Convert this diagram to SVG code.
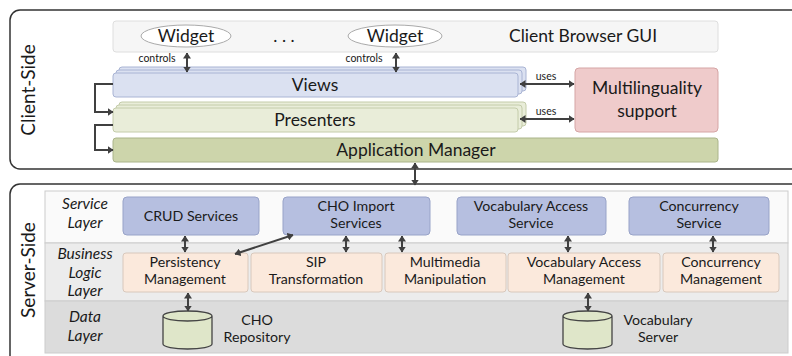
<svg xmlns="http://www.w3.org/2000/svg" width="792" height="356" viewBox="0 0 792 356">
<defs>
<marker id="ah" viewBox="0 0 6 8" refX="5.5" refY="4" markerWidth="6" markerHeight="8" markerUnits="userSpaceOnUse" orient="auto-start-reverse">
<path d="M0,0 L6,4 L0,8 z" fill="#404040"/>
</marker>
<style>
text{font-family:Lato,"Open Sans","Liberation Sans",sans-serif;fill:#1a1a1a;text-anchor:middle}
.big{font-size:17.5px}
.mid{font-size:14.2px}
.sm{font-size:10.5px}
.side{font-size:19px}
.lay{font-size:15.5px;font-style:italic}
.outer{fill:#fff;stroke:#333;stroke-width:1.5}
.gui{fill:#f6f6f6;stroke:#dedede}
.wid{fill:#fff;stroke:#aaa}
.views{fill:#dbe1f1;stroke:#a9b4d4}
.pres{fill:#e9edd9;stroke:#c4ccaa}
.app{fill:#cdd5ab;stroke:#aab48a}
.multi{fill:#efcbcb;stroke:#d5a5a5}
.svc{fill:#b6bfe0;stroke:#98a3c8}
.bl{fill:#fbe9dc;stroke:#d8c8bc}
.cyl{fill:#dfe6c9;stroke:#444;stroke-width:1.3}
.arr{fill:none;stroke:#404040;stroke-width:2;marker-end:url(#ah)}
.darr{fill:none;stroke:#404040;stroke-width:2;marker-start:url(#ah);marker-end:url(#ah)}
</style>
</defs>

<g id="client-side">
<rect class="outer" x="10" y="10" width="800" height="159" rx="10"/>
<text class="side" transform="translate(35,90) rotate(-90)">Client-Side</text>
</g>
<g id="server-side">
<rect class="outer" x="10" y="184" width="800" height="200" rx="10"/>
<text class="side" transform="translate(35,270) rotate(-90)">Server-Side</text>
</g>

<g id="client-browser-gui">
<rect class="gui" x="113" y="21" width="605" height="31" rx="3"/>
<text class="big" x="583" y="42">Client Browser GUI</text>
<text class="big" x="284" y="42">. . .</text>
</g>
<g id="widget1">
<ellipse class="wid" cx="186" cy="36" rx="45" ry="11"/>
<text class="big" x="186" y="42">Widget</text>
</g>
<g id="widget2">
<ellipse class="wid" cx="395" cy="36" rx="47" ry="11"/>
<text class="big" x="395" y="42">Widget</text>
</g>

<g id="views">
<rect class="views" x="119" y="67" width="407" height="24" rx="3"/>
<rect class="views" x="116" y="70" width="406" height="24" rx="3"/>
<rect class="views" x="113" y="73" width="405" height="24" rx="3"/>
<text class="big" x="315" y="91">Views</text>
</g>
<g id="presenters">
<rect class="pres" x="119" y="102" width="407" height="24" rx="3"/>
<rect class="pres" x="116" y="105" width="406" height="24" rx="3"/>
<rect class="pres" x="113" y="108" width="405" height="24" rx="3"/>
<text class="big" x="315" y="126">Presenters</text>
</g>
<g id="application-manager">
<rect class="app" x="113" y="138" width="605" height="24" rx="3"/>
<text class="big" x="416" y="156">Application Manager</text>
</g>
<g id="multilinguality">
<rect class="multi" x="575" y="68" width="143" height="64" rx="4"/>
<text class="big" x="647" y="94">Multilinguality</text>
<text class="big" x="647" y="117">support</text>
</g>

<g id="service-layer">
<rect x="45" y="191" width="743" height="52" fill="#fafafa" stroke="#cccccc"/>
<text class="lay" x="85" y="209">Service</text>
<text class="lay" x="85" y="228">Layer</text>
</g>
<g id="business-logic-layer">
<rect x="45" y="243" width="743" height="58" fill="#ececec" stroke="#cccccc"/>
<text class="lay" x="85" y="259">Business</text>
<text class="lay" x="85" y="277.5">Logic</text>
<text class="lay" x="85" y="296">Layer</text>
</g>
<g id="data-layer">
<rect x="45" y="301" width="743" height="52" fill="#dcdcdc" stroke="#cccccc"/>
<text class="lay" x="85" y="322">Data</text>
<text class="lay" x="85" y="341">Layer</text>
</g>

<g id="crud-services">
<rect class="svc" x="123" y="197" width="136" height="38" rx="4"/>
<text class="mid" x="191" y="221">CRUD Services</text>
</g>
<g id="cho-import-services">
<rect class="svc" x="283" y="197" width="147" height="38" rx="4"/>
<text class="mid" x="356" y="211">CHO Import</text>
<text class="mid" x="356" y="228">Services</text>
</g>
<g id="vocabulary-access-service">
<rect class="svc" x="457" y="197" width="149" height="38" rx="4"/>
<text class="mid" x="531" y="211">Vocabulary Access</text>
<text class="mid" x="531" y="228">Service</text>
</g>
<g id="concurrency-service">
<rect class="svc" x="629" y="197" width="140" height="38" rx="4"/>
<text class="mid" x="699" y="211">Concurrency</text>
<text class="mid" x="699" y="228">Service</text>
</g>

<g id="persistency-management">
<rect class="bl" x="123" y="253" width="125" height="39" rx="3"/>
<text class="mid" x="185" y="267">Persistency</text>
<text class="mid" x="185" y="284">Management</text>
</g>
<g id="sip-transformation">
<rect class="bl" x="251" y="253" width="131" height="39" rx="3"/>
<text class="mid" x="316" y="267">SIP</text>
<text class="mid" x="316" y="284">Transformation</text>
</g>
<g id="multimedia-manipulation">
<rect class="bl" x="385" y="253" width="121" height="39" rx="3"/>
<text class="mid" x="445" y="267">Multimedia</text>
<text class="mid" x="445" y="284">Manipulation</text>
</g>
<g id="vocabulary-access-management">
<rect class="bl" x="508" y="253" width="152" height="39" rx="3"/>
<text class="mid" x="584" y="267">Vocabulary Access</text>
<text class="mid" x="584" y="284">Management</text>
</g>
<g id="concurrency-management">
<rect class="bl" x="663" y="253" width="116" height="39" rx="3"/>
<text class="mid" x="721" y="267">Concurrency</text>
<text class="mid" x="721" y="284">Management</text>
</g>

<g id="cho-repository">
<path class="cyl" d="M163,316 L163,344 A24.5,5 0 0 0 212,344 L212,316 A24.5,5 0 0 0 163,316 A24.5,5 0 0 0 212,316"/>
<text class="mid" x="257" y="325">CHO</text>
<text class="mid" x="257" y="342">Repository</text>
</g>
<g id="vocabulary-server">
<path class="cyl" d="M563,316 L563,344 A24.5,5 0 0 0 612,344 L612,316 A24.5,5 0 0 0 563,316 A24.5,5 0 0 0 612,316"/>
<text class="mid" x="658" y="325">Vocabulary</text>
<text class="mid" x="658" y="342">Server</text>
</g>

<g id="connectors">
<line class="darr" x1="187" y1="53" x2="187" y2="72"/>
<text class="sm" x="157" y="62">controls</text>
<line class="darr" x1="396" y1="53" x2="396" y2="72"/>
<text class="sm" x="364" y="62">controls</text>
<line class="darr" x1="520" y1="84" x2="574" y2="84"/>
<text class="sm" x="546" y="80">uses</text>
<line class="darr" x1="520" y1="119" x2="574" y2="119"/>
<text class="sm" x="546" y="115">uses</text>
<path class="arr" d="M113,84 L95,84 L95,112 L113,112"/>
<path class="arr" d="M113,125 L95,125 L95,150 L113,150"/>
<line class="darr" x1="415" y1="163" x2="415" y2="185"/>
<line class="darr" x1="185" y1="236" x2="185" y2="252"/>
<line class="darr" x1="346" y1="236" x2="346" y2="252"/>
<line class="darr" x1="402" y1="236" x2="402" y2="252"/>
<line class="darr" x1="568" y1="236" x2="568" y2="252"/>
<line class="darr" x1="713" y1="236" x2="713" y2="252"/>
<line class="darr" x1="293" y1="235" x2="235" y2="254"/>
<line class="darr" x1="188" y1="293" x2="188" y2="311"/>
<line class="darr" x1="588" y1="293" x2="588" y2="311"/>
</g>
</svg>
